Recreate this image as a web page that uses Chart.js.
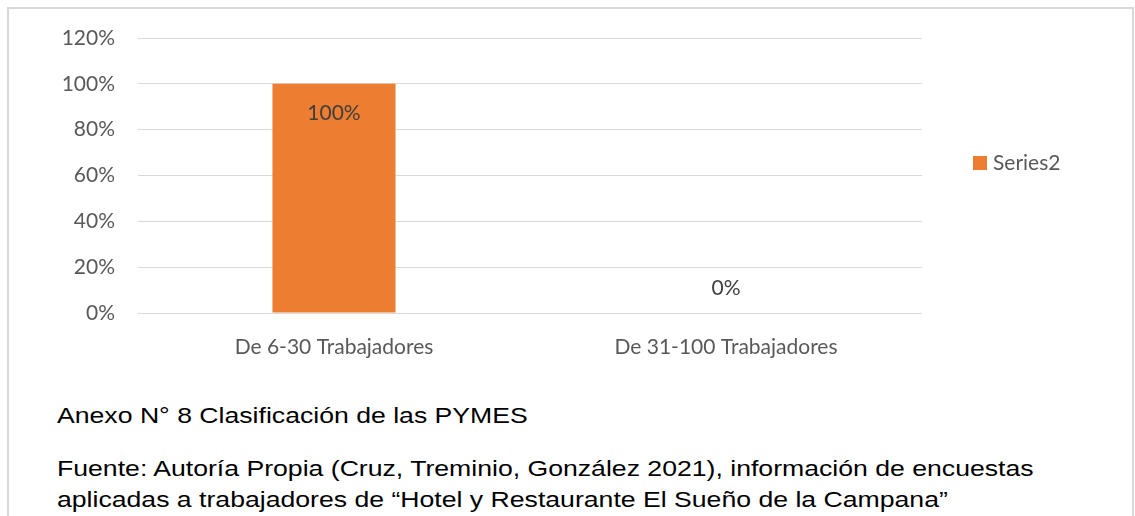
<!DOCTYPE html>
<html>
<head>
<meta charset="utf-8">
<script src="https://cdn.jsdelivr.net/npm/chart.js@4/dist/chart.umd.min.js"></script>
<style>
  html, body { margin: 0; padding: 0; background: #fff; width: 1135px; height: 516px; overflow: hidden; }
  #frame { position: absolute; left: 7px; top: 7px; width: 1127px; height: 600px; border: 2px solid #d9d9d9; box-sizing: border-box; }
  #wrap { position: absolute; left: 0; top: 0; width: 1135px; height: 380px; }
  .cap { position: absolute; left: 57px; font-family: "Liberation Sans", Arial, sans-serif; font-size: 22px; line-height: 22px; color: #000; white-space: nowrap; transform: scaleX(1.21); transform-origin: 0 0; }
</style>
</head>
<body>
<div id="frame"></div>
<div id="wrap"><canvas id="c" width="1135" height="380"></canvas></div>
<div class="cap" style="top:405px;">Anexo N° 8 Clasificación de las PYMES</div>
<div class="cap" style="top:458px;">Fuente: Autoría Propia (Cruz, Treminio, González 2021), información de encuestas</div>
<div class="cap" style="top:489px;">aplicadas a trabajadores de “Hotel y Restaurante El Sueño de la Campana”</div>
<script>
const categories = ["De 6-30 Trabajadores", "De 31-100 Trabajadores"];
const seriesName = "Series2";
const seriesValues = [1.00, 0.00];
const yTicks = [0, 0.2, 0.4, 0.6, 0.8, 1.0, 1.2];

const FONT = "Lato, 'Open Sans', sans-serif";
const FS = 21;

const pct = v => Math.round(v * 100) + "%";

const dataLabels = {
  id: "dataLabels",
  afterDatasetsDraw(chart) {
    const ctx = chart.ctx;
    const meta = chart.getDatasetMeta(0);
    const ds = chart.data.datasets[0];
    ctx.save();
    ctx.font = FS + "px " + FONT;
    ctx.fillStyle = "#404040";
    ctx.textAlign = "center";
    ctx.textBaseline = "middle";
    meta.data.forEach((bar, i) => {
      const v = ds.data[i];
      const y = v > 0 ? bar.y + 29 : bar.y - 25;
      ctx.fillText(pct(v), bar.x, y);
    });
    ctx.restore();
  }
};

const customLegend = {
  id: "customLegend",
  afterDraw(chart) {
    const ctx = chart.ctx;
    const ds = chart.data.datasets[0];
    ctx.save();
    ctx.fillStyle = ds.backgroundColor;
    ctx.fillRect(973, 156, 14, 14);
    ctx.font = FS + "px " + FONT;
    ctx.fillStyle = "#595959";
    ctx.textAlign = "left";
    ctx.textBaseline = "middle";
    ctx.fillText(ds.label, 993, 163);
    ctx.restore();
  }
};

new Chart(document.getElementById("c"), {
  type: "bar",
  data: {
    labels: categories,
    datasets: [{
      label: seriesName,
      data: seriesValues,
      backgroundColor: "#ed7d31",
      categoryPercentage: 1.0,
      barPercentage: 0.314
    }]
  },
  options: {
    responsive: false,
    animation: false,
    layout: { padding: { top: 38, right: 213, bottom: 0, left: 0 } },
    plugins: { legend: { display: false }, tooltip: { enabled: false } },
    scales: {
      x: {
        grid: { display: false, drawTicks: false },
        border: { display: false },
        ticks: { color: "#595959", font: { family: FONT, size: FS }, padding: 22 },
        afterFit(s) { s.height = 67; }
      },
      y: {
        min: 0, max: 1.2,
        afterBuildTicks(s) { s.ticks = yTicks.map(v => ({ value: v })); },
        grid: { color: "#d9d9d9", lineWidth: 1, drawTicks: false },
        border: { display: false },
        ticks: { color: "#595959", font: { family: FONT, size: FS }, padding: 23, callback: v => pct(v) },
        afterFit(s) { s.width = 138; }
      }
    }
  },
  plugins: [dataLabels, customLegend]
});
</script>
</body>
</html>
